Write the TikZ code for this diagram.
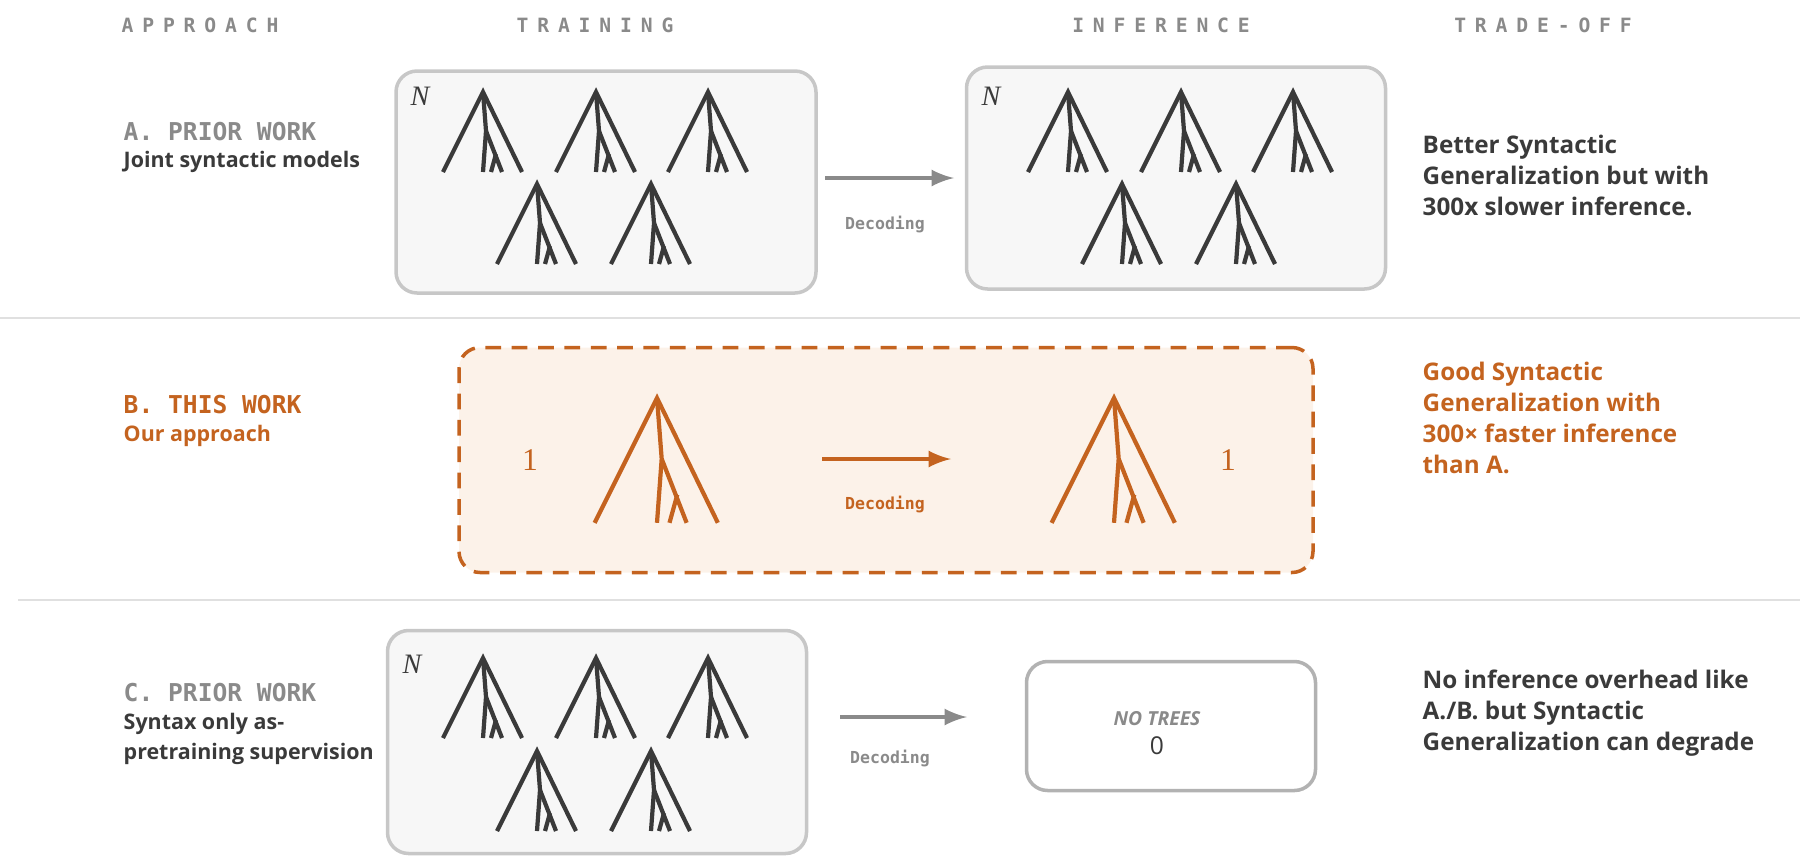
\documentclass[tikz,border=0pt]{standalone}
\usepackage{fontspec}
\setmainfont{Open Sans}
\setmonofont{DejaVu Sans Mono}
\newfontfamily\numfont{Liberation Serif}
\definecolor{orng}{HTML}{C4631F}
\definecolor{orngfill}{HTML}{FCF2E9}
\definecolor{ink}{HTML}{3A3A3A}
\definecolor{grey}{HTML}{8A8A8A}
\begin{document}
\begin{tikzpicture}[x=0.1mm,y=-0.1mm,
    tree/.pic={\draw[line width=1.2pt] (-40,80) -- (0,0) -- (39,80);
      \draw[line width=1.2pt] (0,0) -- (3,39) -- (0,80);
      \draw[line width=1.2pt] (3,39) -- (19,80);
      \draw[line width=1.2pt] (13,62) -- (8,80);},
    panel/.style={draw=black!22, fill=black!3, line width=1pt, rounded corners=6pt, inner sep=0pt},
    head/.style={font=\ttfamily\bfseries\fontsize{5.6}{6}\selectfont\addfontfeature{LetterSpace=45}, text=grey},
    title/.style={anchor=west, inner sep=0pt, font=\ttfamily\bfseries\fontsize{7}{8}\selectfont},
    sub/.style={anchor=west, inner sep=0pt, font=\bfseries\fontsize{6.1}{8.6}\selectfont, align=left},
    trade/.style={anchor=north west, inner sep=0pt, font=\bfseries\fontsize{6.9}{8.9}\selectfont, align=left, text=ink},
    deco/.style={font=\ttfamily\bfseries\fontsize{4.7}{5}\selectfont, text=grey},
    count/.style={font=\numfont\itshape\fontsize{8}{8}\selectfont, text=ink},
    arr/.style={-latex, line width=1.2pt, grey}]
\useasboundingbox (0,0) rectangle (1800,856);
% headers
\node[head] (h1) at (200,25) {APPROACH};
\node[head] (h2) at (595,25) {TRAINING};
\node[head] (h3) at (1161,25) {INFERENCE};
\node[head] (h4) at (1543,25) {TRADE-OFF};
\draw[black!12, line width=0.8pt] (0,318) -- (1800,318);
\draw[black!12, line width=0.8pt] (18,600) -- (1800,600);
% row A
\node[title, text=grey] (ta) at (123,132) {A. PRIOR WORK};
\node[sub, text=ink] (sa) at (123,162) {Joint syntactic models};
\node[panel, minimum width=42mm, minimum height=22.2mm] (a1) at (606,182) {};
\node[panel, minimum width=41.9mm, minimum height=22.2mm] (a2) at (1176,178) {};
\node[count] (n1) at (420,96) {N};
\node[count] (n2) at (991,96) {N};
\foreach \x in {483,596,708} {\pic[ink] at (\x,92) {tree}; \pic[ink] at (\x+585,92) {tree};}
\foreach \x in {537,651} {\pic[ink] at (\x,184) {tree}; \pic[ink] at (\x+585,184) {tree};}
\coordinate (aa) at (825,178);
\coordinate (ab) at (954,178);
\draw[arr] (aa) -- (ab);
\node[deco] (da) at (885,224) {Decoding};
\node[trade] (ra) at (1422,134) {Better Syntactic\\Generalization but with\\300x slower inference.};
% row B
\node[draw=orng, fill=orngfill, dash pattern=on 4.5pt off 3pt, line width=1pt, rounded corners=6pt,
  minimum width=85.4mm, minimum height=22.5mm, inner sep=0pt] (b) at (886,460) {};
\node[title, text=orng] (tb) at (123,405) {B. THIS WORK};
\node[sub, text=orng] (sb) at (123,436) {Our approach};
\pic[orng, scale=1.56] at (657,398) {tree};
\pic[orng, scale=1.56] at (1114,398) {tree};
\node[font=\numfont\fontsize{9}{9}\selectfont, text=orng] (o1) at (530,460) {1};
\node[font=\numfont\fontsize{9}{9}\selectfont, text=orng] (o2) at (1228,460) {1};
\coordinate (ba) at (822,459);
\coordinate (bb) at (951,459);
\draw[arr, orng] (ba) -- (bb);
\node[deco, text=orng] (db) at (885,504) {Decoding};
\node[trade, text=orng] (rb) at (1422,361) {Good Syntactic\\Generalization with\\300× faster inference\\than A.};
% row C
\node[title, text=grey] (tc) at (123,693) {C. PRIOR WORK};
\node[sub, text=ink] (sc) at (123,739) {Syntax only as-\\pretraining supervision};
\node[panel, minimum width=41.9mm, minimum height=22.3mm] (c1) at (597,742) {};
\node[count] (n3) at (412,664) {N};
\foreach \x in {483,596,708} \pic[ink] at (\x,658) {tree};
\foreach \x in {537,651} \pic[ink] at (\x,751) {tree};
\coordinate (ca) at (840,717);
\coordinate (cb) at (967,717);
\draw[arr] (ca) -- (cb);
\node[deco] (dc) at (890,758) {Decoding};
\node[draw=black!30, fill=white, line width=1pt, rounded corners=6pt, minimum width=28.9mm, minimum height=12.9mm,
  inner sep=0pt] (c2) at (1171,726) {};
\node[font=\itshape\bfseries\fontsize{5.5}{6}\selectfont, text=grey] (nt) at (1157,719) {NO TREES};
\node[font=\fontsize{7}{7}\selectfont, text=ink] (z) at (1157,746) {0};
\node[trade] (rc) at (1422,669) {No inference overhead like\\A./B. but Syntactic\\Generalization can degrade};
\end{tikzpicture}
\end{document}
